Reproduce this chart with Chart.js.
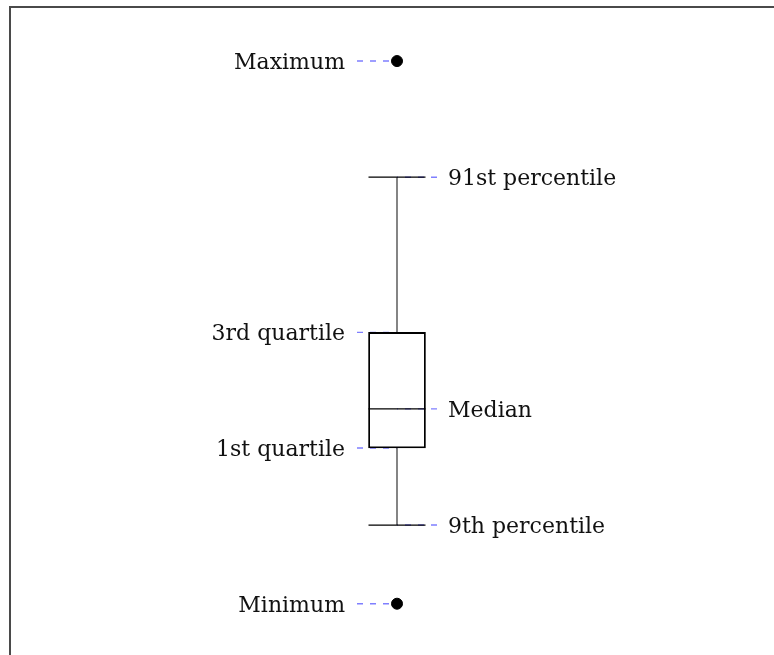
<!DOCTYPE html>
<html>
<head>
<meta charset="utf-8">
<script src="https://cdn.jsdelivr.net/npm/chart.js@4.4.1/dist/chart.umd.min.js"></script>
<style>
html,body{margin:0;padding:0;background:#fff;}
#wrap{position:relative;width:774px;height:655px;}
</style>
</head>
<body>
<div id="wrap"><canvas id="c" width="774" height="655"></canvas></div>
<script>
// ---- data ----
const categories = ['sample'];
const minimum = [0];
const percentile9 = [1.45];
const quartile1 = [2.87];
const median = [3.59];
const quartile3 = [5.0];
const percentile91 = [7.86];
const maximum = [10];
const leftLabels = ['Maximum', '3rd quartile', '1st quartile', 'Minimum'];
const leftValues = [maximum[0], quartile3[0], quartile1[0], minimum[0]];
const rightLabels = ['91st percentile', 'Median', '9th percentile'];
const rightValues = [percentile91[0], median[0], percentile9[0]];

const FONT = '22px "DejaVu Serif", serif';
const LEADER = '#7f7fff';

const boxPlugin = {
  id: 'boxExtras',
  beforeDraw(chart) {
    const ctx = chart.ctx;
    ctx.save();
    ctx.fillStyle = '#fff';
    ctx.fillRect(0, 0, chart.width, chart.height);
    ctx.strokeStyle = '#4a4a4a';
    ctx.lineWidth = 2;
    ctx.beginPath();
    ctx.moveTo(10, chart.height + 10);
    ctx.lineTo(10, 7);
    ctx.lineTo(chart.width + 10, 7);
    ctx.stroke();
    ctx.restore();
  },
  beforeDatasetsDraw(chart) {
    const ctx = chart.ctx;
    const y = chart.scales.y;
    const bar = chart.getDatasetMeta(0).data[0];
    const cx = bar.x;
    ctx.save();
    // leader lines
    ctx.strokeStyle = LEADER;
    ctx.lineWidth = 1.4;
    ctx.setLineDash([6, 7]);
    leftValues.forEach(v => {
      const py = y.getPixelForValue(v);
      ctx.beginPath();
      ctx.moveTo(cx - 40, py);
      ctx.lineTo(cx, py);
      ctx.stroke();
    });
    rightValues.forEach(v => {
      const py = y.getPixelForValue(v);
      ctx.beginPath();
      ctx.moveTo(cx + 40, py);
      ctx.lineTo(cx, py);
      ctx.stroke();
    });
    ctx.setLineDash([]);
    // whiskers
    const half = bar.width / 2;
    ctx.strokeStyle = '#444';
    ctx.lineWidth = 1.3;
    const pTop = y.getPixelForValue(percentile91[0]);
    const pQ3 = y.getPixelForValue(quartile3[0]);
    const pQ1 = y.getPixelForValue(quartile1[0]);
    const pBot = y.getPixelForValue(percentile9[0]);
    ctx.beginPath();
    ctx.moveTo(cx, pTop); ctx.lineTo(cx, pQ3);
    ctx.moveTo(cx, pQ1); ctx.lineTo(cx, pBot);
    ctx.stroke();
    ctx.strokeStyle = '#000';
    ctx.beginPath();
    ctx.moveTo(cx - half, pTop); ctx.lineTo(cx + half, pTop);
    ctx.moveTo(cx - half, pBot); ctx.lineTo(cx + half, pBot);
    ctx.stroke();
    ctx.restore();
  },
  afterDatasetsDraw(chart) {
    const ctx = chart.ctx;
    const y = chart.scales.y;
    const bar = chart.getDatasetMeta(0).data[0];
    const cx = bar.x;
    const half = bar.width / 2;
    ctx.save();
    // median
    const pm = y.getPixelForValue(median[0]);
    ctx.strokeStyle = '#000';
    ctx.lineWidth = 1.2;
    ctx.beginPath();
    ctx.moveTo(cx - half, pm); ctx.lineTo(cx + half, pm);
    ctx.stroke();
    // labels
    ctx.font = FONT;
    ctx.fillStyle = '#111';
    ctx.textBaseline = 'alphabetic';
    ctx.textAlign = 'right';
    leftLabels.forEach((t, i) => {
      ctx.fillText(t, cx - 52, y.getPixelForValue(leftValues[i]) + 8);
    });
    ctx.textAlign = 'left';
    rightLabels.forEach((t, i) => {
      ctx.fillText(t, cx + 51, y.getPixelForValue(rightValues[i]) + 8);
    });
    ctx.restore();
  }
};

new Chart(document.getElementById('c'), {
  type: 'bar',
  data: {
    labels: categories,
    datasets: [
      {
        type: 'bar',
        data: categories.map((_, i) => [quartile1[i], quartile3[i]]),
        backgroundColor: 'rgba(255,255,255,0)',
        borderColor: '#000',
        borderWidth: 1.2,
        borderSkipped: false,
        barThickness: 57
      },
      {
        type: 'line',
        data: categories.map((c, i) => ({x: c, y: maximum[i]})).concat(categories.map((c, i) => ({x: c, y: minimum[i]}))),
        showLine: false,
        pointRadius: 5.5,
        pointBackgroundColor: '#000',
        pointBorderColor: '#000'
      }
    ]
  },
  options: {
    responsive: false,
    animation: false,
    layout: { autoPadding: false, padding: { left: 20, right: 0, top: 0, bottom: 0 } },
    plugins: { legend: { display: false }, tooltip: { enabled: false }, title: { display: false } },
    scales: {
      x: { display: false },
      y: { display: false, min: -0.945, max: 11.125 }
    }
  },
  plugins: [boxPlugin]
});
</script>
</body>
</html>
